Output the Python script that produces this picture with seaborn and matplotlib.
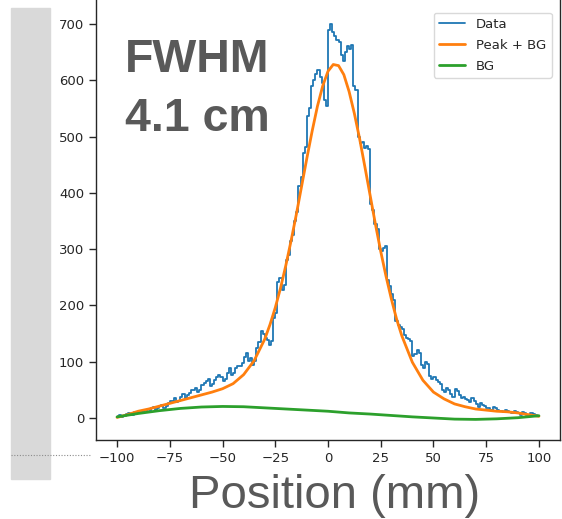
import numpy as np
import pandas as pd
import seaborn as sns
import matplotlib
matplotlib.use("Agg")
import matplotlib.pyplot as plt
from matplotlib.patches import Rectangle
from matplotlib.lines import Line2D

# ---- data ----
bin_centers = [c + 0.5 for c in range(-100, 100)]
counts = [4, 6, 2, 3, 7, 9, 5, 6, 11, 9, 8, 10, 13, 15, 11, 13, 17, 19, 15, 17,
          21, 23, 18, 21, 26, 30, 31, 35, 29, 31, 38, 42, 36, 40, 45, 49, 50, 54, 46, 50,
          58, 62, 65, 69, 56, 60, 68, 72, 76, 72, 66, 70, 80, 88, 76, 80, 88, 92, 93, 97,
          108, 116, 102, 106, 95, 101, 125, 135, 155, 150, 142, 138, 130, 136, 178, 186, 242, 248, 228, 236,
          280, 290, 315, 325, 350, 366, 412, 428, 470, 482, 536, 550, 590, 600, 612, 618, 605, 595, 565, 555,
          690, 700, 685, 678, 672, 668, 645, 635, 650, 660, 655, 662, 590, 582, 500, 488, 490, 480, 484, 478,
          380, 370, 345, 335, 300, 296, 302, 306, 245, 235, 220, 210, 172, 166, 162, 158, 148, 142, 141, 137,
          110, 114, 120, 116, 95, 89, 100, 96, 75, 69, 72, 68, 64, 60, 50, 46, 54, 50, 42, 38,
          52, 48, 40, 36, 38, 34, 32, 28, 35, 31, 24, 20, 27, 23, 22, 18, 17, 15, 19, 17,
          15, 13, 12, 10, 15, 13, 10, 8, 13, 11, 8, 6, 11, 9, 6, 4, 9, 7, 5, 3]

fit_x = [-100, -95, -90, -85, -80, -75, -70, -65, -60, -55, -50, -45, -40, -35,
         -30, -27.5, -25, -22.5, -20, -17.5, -15, -12.5, -10, -7.5, -5, -2.5,
         0, 2.5, 5, 7.5, 10, 12.5, 15, 17.5, 20, 22.5, 25, 27.5, 30, 32.5, 35,
         40, 45, 50, 55, 60, 65, 70, 75, 80, 85, 90, 95, 100]
fit_y = [1, 6, 12, 16, 21, 26, 31, 36, 41, 46, 52, 61, 77, 102,
         140, 166, 196, 231, 271, 315, 362, 412, 462, 510, 554, 590,
         616, 628, 626, 610, 580, 541, 496, 446, 395, 344, 296, 252, 212, 176, 146,
         99, 67, 46, 34, 25, 20, 16, 14, 12, 11, 9, 6, 3]

bg_x = [-100, -90, -80, -70, -60, -50, -40, -30, -20, -10, 0,
        10, 20, 30, 40, 50, 60, 70, 80, 90, 100]
bg_y = [2, 8, 13, 17, 19.5, 20.5, 20, 18, 16, 14, 12,
        9, 7, 4.5, 2, 0, -2, -2.5, -1.5, 0.5, 4]

x_ticks = [-100, -75, -50, -25, 0, 25, 50, 75, 100]
y_ticks = [0, 100, 200, 300, 400, 500, 600, 700]

# ---- figure ----
sns.set_style("ticks")
plt.rcParams['font.family'] = ['DejaVu Sans']

W, H = 562, 519
fig = plt.figure(figsize=(W / 100, H / 100), dpi=100)
ax = fig.add_axes([96 / W, (H - 440) / H, (560 - 96) / W, 440 / H])

sns.lineplot(x=bin_centers, y=counts, drawstyle='steps-mid', color='#1f77b4',
             linewidth=1.3, label='Data', ax=ax)
sns.lineplot(x=fit_x, y=fit_y, color='#ff7f0e', linewidth=2.0,
             label='Peak + BG', ax=ax)
sns.lineplot(x=bg_x, y=bg_y, color='#2ca02c', linewidth=2.0,
             label='BG', ax=ax)

ax.set_xlim(-110, 110)
ax.set_ylim(-39.1, 742.6)
ax.set_xticks(x_ticks)
ax.set_yticks(y_ticks)
ax.tick_params(labelsize=9.5, colors='#262626', length=5, width=1)
ax.set_xlabel('')
ax.set_ylabel('')
ax.spines['top'].set_visible(False)
for s in ['left', 'bottom', 'right']:
    ax.spines[s].set_color('#262626')
    ax.spines[s].set_linewidth(1.0)

leg = ax.legend(loc='upper right', bbox_to_anchor=(0.996, 1 - 6 / 440),
                fontsize=9.5, labelspacing=0.6, frameon=True, fancybox=True)
leg.get_frame().set_edgecolor('#d0d0d0')
for t in leg.get_texts():
    t.set_color('#262626')

# left gray bar and dotted rule
fig.patches.append(Rectangle((11 / W, 1 - 479 / H), 39 / W, 471 / H,
                             transform=fig.transFigure, color='#d9d9d9',
                             zorder=0))
fig.lines.append(Line2D([11 / W, 90 / W], [1 - 455 / H, 1 - 455 / H],
                        transform=fig.transFigure, color='#8c8c8c',
                        linestyle=(0, (1, 1.5)), linewidth=0.8))

# big annotations
big = dict(family='Liberation Sans', color='#595959')
fig.text(125 / W, 1 - 72 / H, 'FWHM', fontsize=33.5, fontweight='bold',
         va='baseline', ha='left', **big)
fig.text(125 / W, 1 - 131 / H, '4.1 cm', fontsize=33.5, fontweight='bold',
         va='baseline', ha='left', **big)
fig.text(335 / W, 1 - 508 / H, 'Position (mm)', fontsize=34,
         va='baseline', ha='center', **big)

fig.savefig('out.png', dpi=100)
